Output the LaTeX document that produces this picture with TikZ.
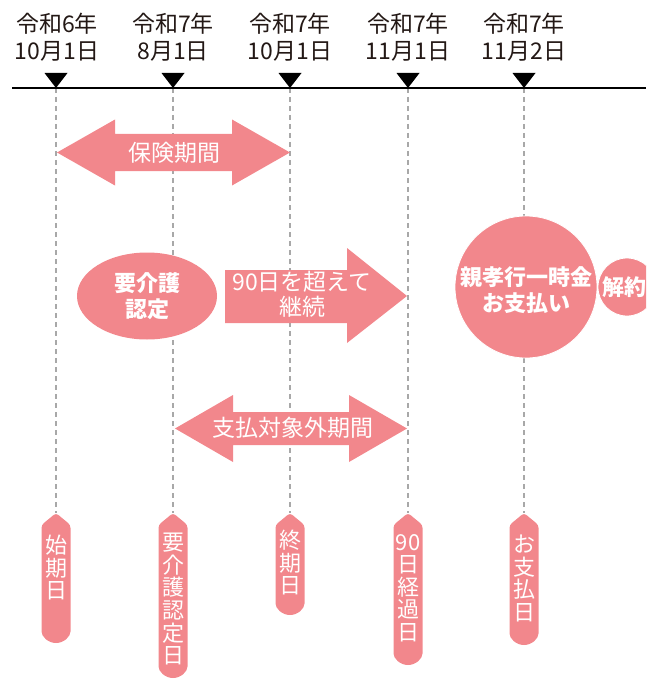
\documentclass[tikz,border=0pt]{standalone}
\usepackage{fontspec}
\setmainfont{Noto Sans CJK JP}
\usepackage{tikz}
\usetikzlibrary{shapes.geometric}

\definecolor{kpink}{HTML}{F2878C}
\definecolor{kgray}{HTML}{A8A8A8}
\definecolor{kink}{HTML}{231815}

% tab below a date line: x, top, bottom
\newcommand{\daytab}[3]{%
  \fill[kpink, rounded corners=3pt] (#1,#2) -- (#1+14.5,#2+12) -- (#1+14.5,#3-14.5)
    arc[start angle=0, end angle=180, radius=14.5] -- (#1-14.5,#2+12) -- cycle;}

\tikzset{
  datelbl/.style={align=center, text=kink, inner sep=0pt, font=\fontsize{23}{27}\selectfont},
  dateline/.style={kgray, line width=1.3pt, dash pattern=on 5pt off 4pt},
  whitelbl/.style={align=center, text=white, inner sep=0pt, font=\fontsize{23}{25}\selectfont},
  boldlbl/.style={align=center, text=white, inner sep=0pt, font=\fontsize{22}{26}\selectfont\bfseries},
  tablbl/.style={align=center, text=white, inner sep=0pt, anchor=north, font=\fontsize{22}{22.6}\selectfont}
}

\begin{document}
\begin{tikzpicture}[x=1pt, y=-1pt]
        \useasboundingbox (0,0) rectangle (646,679);
        \clip (0,0) rectangle (646,679);

        % Dates
        \node[datelbl] (d1) at (57,37) {令和6年\\10月1日};
        \node[datelbl] (d2) at (173,37) {令和7年\\8月1日};
        \node[datelbl] (d3) at (290,37) {令和7年\\10月1日};
        \node[datelbl] (d4) at (408,37) {令和7年\\11月1日};
        \node[datelbl] (d5) at (524,37) {令和7年\\11月2日};

        \coordinate (m1) at (56,88);
        \coordinate (m2) at (173,88);
        \coordinate (m3) at (290,88);
        \coordinate (m4) at (408,88);
        \coordinate (m5) at (524,88);

        \coordinate (s1) at (56,513);
        \coordinate (s2) at (173,513);
        \coordinate (s3) at (290,513);
        \coordinate (s4) at (408,513);
        \coordinate (s5) at (524,513);

        \draw[dateline] (m1) -- (s1);
        \draw[dateline] (m2) -- (s2);
        \draw[dateline] (m3) -- (s3);
        \draw[dateline] (m4) -- (s4);
        \draw[dateline] (m5) -- (s5);

        \draw[black, line width=1.3pt] (12,88) -- (646,88);
        \fill[black] (m1) ++(-11.5,-15) -- ++(23,0) -- (m1) -- cycle;
        \fill[black] (m2) ++(-11.5,-15) -- ++(23,0) -- (m2) -- cycle;
        \fill[black] (m3) ++(-11.5,-15) -- ++(23,0) -- (m3) -- cycle;
        \fill[black] (m4) ++(-11.5,-15) -- ++(23,0) -- (m4) -- cycle;
        \fill[black] (m5) ++(-11.5,-15) -- ++(23,0) -- (m5) -- cycle;

        % Periods
        \fill[kpink] (57,152.5) -- (115,119.5) -- (115,134) -- (232,134) -- (232,119.5) -- (290,152.5)
            -- (232,185.5) -- (232,171) -- (115,171) -- (115,185.5) -- cycle;
        \node[whitelbl] (hoken) at (174,153) {保険期間};

        \fill[kpink] (175,428.5) -- (233,395) -- (233,412) -- (349,412) -- (349,395) -- (407,428.5)
            -- (349,462) -- (349,445) -- (233,445) -- (233,462) -- cycle;
        \node[whitelbl] (taishogai) at (293,428) {支払対象外期間};

        \fill[kpink] (225,270) -- (347,270) -- (347,248) -- (407,296) -- (347,343) -- (347,323)
            -- (225,323) -- cycle;
        \node[whitelbl] (keizoku) at (302,294) {90日を超えて\\継続};

        \node[ellipse, fill=kpink, minimum width=140pt, minimum height=87pt] (nintei) at (147,296) {};
        \node[boldlbl] at (nintei) {要介護\\認定};

        \node[circle, fill=kpink, draw=white, line width=0.8pt, minimum size=142pt, inner sep=0pt] (shiharai) at (526,287) {};
        \node[boldlbl] at (526,290) {親孝行一時金\\お支払い};

        \node[circle, fill=kpink, draw=white, line width=0.8pt, minimum size=58pt, inner sep=0pt] (kaiyaku) at (627,287) {};
        \node[boldlbl, anchor=west] at (602,287) {解約};

        % Tabs
        \daytab{56}{513}{643}
        \daytab{173}{513}{678}
        \daytab{290}{513}{615}
        \daytab{408}{513}{665}
        \daytab{524}{513}{645}

        \node[tablbl] (t1) at (56,535) {始\\期\\日};
        \node[tablbl] (t2) at (173,533) {要\\介\\護\\認\\定\\日};
        \node[tablbl] (t3) at (290,530) {終\\期\\日};
        \node[tablbl] (t4) at (408,534) {90\\日\\経\\過\\日};
        \node[tablbl] (t5) at (524,535) {お\\支\\払\\日};
    \end{tikzpicture}
\end{document}
